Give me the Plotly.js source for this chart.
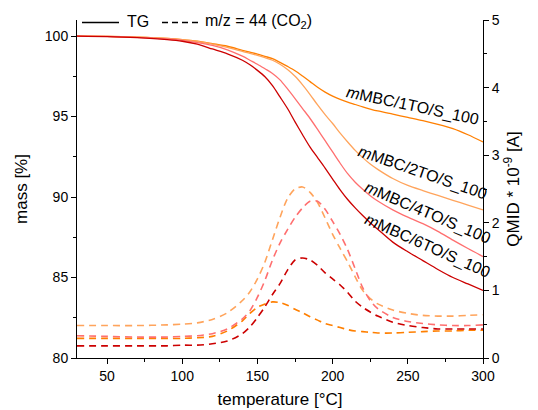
<!DOCTYPE html>
<html><head><meta charset="utf-8">
<script src="https://cdn.plot.ly/plotly-3.0.1.min.js"></script>
<style>html,body{margin:0;padding:0;background:#fff}#chart{width:538px;height:410px}</style>
</head><body><div id="chart"></div>
<script>
var temperature = [30,50,70,90,100,110,120,130,140,145,150,155,160,165,170,175,180,185,190,195,200,205,210,215,220,225,230,240,250,260,270,280,290,300];

var tg1TO = [100,99.98,99.93,99.85,99.78,99.68,99.53,99.37,99.12,99.0,98.88,98.74,98.6,98.37,98.12,97.85,97.52,97.17,96.82,96.52,96.27,96.07,95.9,95.75,95.6,95.47,95.35,95.15,94.95,94.75,94.52,94.25,93.87,93.42];
var tg2TO = [100,99.98,99.93,99.85,99.78,99.67,99.5,99.3,99.05,98.93,98.8,98.66,98.5,98.25,97.92,97.5,96.97,96.37,95.72,95.12,94.57,93.97,93.42,92.9,92.45,92.05,91.72,91.15,90.72,90.4,90.1,89.8,89.5,89.2];
var tg4TO = [100,99.98,99.92,99.82,99.74,99.6,99.42,99.15,98.75,98.5,98.25,97.97,97.68,97.28,96.72,96.12,95.5,94.88,94.2,93.5,92.8,92.1,91.45,90.92,90.48,90.08,89.75,89.2,88.75,88.35,87.87,87.32,86.8,86.3];
var tg6TO = [100,99.97,99.9,99.78,99.68,99.5,99.2,98.9,98.5,98.22,97.87,97.47,96.92,96.22,95.5,94.67,93.87,93.1,92.45,91.8,91.12,90.45,89.85,89.33,88.85,88.4,88.0,87.2,86.6,86.05,85.5,85.0,84.6,84.2];

var ms1TO = [0.29,0.29,0.29,0.29,0.29,0.3,0.32,0.4,0.55,0.66,0.75,0.8,0.83,0.82,0.78,0.72,0.67,0.61,0.56,0.51,0.48,0.45,0.42,0.4,0.39,0.38,0.37,0.37,0.38,0.39,0.4,0.4,0.41,0.41];
var ms2TO = [0.48,0.48,0.48,0.49,0.5,0.52,0.57,0.67,0.85,0.98,1.17,1.42,1.75,2.08,2.36,2.5,2.53,2.45,2.3,2.07,1.83,1.62,1.42,1.2,1.0,0.88,0.8,0.71,0.66,0.63,0.62,0.62,0.63,0.64];
var ms4TO = [0.33,0.32,0.31,0.31,0.32,0.33,0.36,0.43,0.58,0.7,0.9,1.15,1.45,1.7,1.9,2.08,2.22,2.32,2.32,2.2,2.02,1.83,1.6,1.32,1.04,0.85,0.73,0.6,0.54,0.51,0.49,0.48,0.48,0.49];
var ms6TO = [0.18,0.18,0.18,0.18,0.19,0.19,0.21,0.25,0.36,0.46,0.6,0.76,0.94,1.1,1.3,1.45,1.48,1.45,1.37,1.26,1.17,1.08,0.97,0.84,0.75,0.68,0.62,0.53,0.48,0.45,0.43,0.43,0.43,0.43];

var sampleNames = ["<i>m</i>MBC/1TO/S_100","<i>m</i>MBC/2TO/S_100","<i>m</i>MBC/4TO/S_100","<i>m</i>MBC/6TO/S_100"];
var sampleColors = ["#ff7f00","#ffa45c","#ff6f6f","#cc0000"];
var labelX = [253, 260, 263, 263];
var labelY = [95.63, 91.5, 89.0, 86.95];
var labelAngle = [12, 19, 23, 24];

var legendNames = ["TG", "m/z = 44 (CO<sub>2</sub>)"];
var legendDash = ["solid", "6px,4px"];

var tgSeries = [tg1TO, tg2TO, tg4TO, tg6TO];
var msSeries = [ms1TO, ms2TO, ms4TO, ms6TO];

var FONT = "Arial, 'Liberation Sans', sans-serif";
var traces = [];
for (var i = 0; i < 4; i++) {
  traces.push({x: temperature, y: msSeries[i], yaxis: 'y2', type: 'scatter', mode: 'lines',
    name: sampleNames[i] + ' m/z 44',
    line: {color: sampleColors[i], width: 1.6, dash: '7px,5px', shape: 'spline', smoothing: 0.8},
    showlegend: false, hoverinfo: 'skip'});
}
for (var j = 0; j < 4; j++) {
  traces.push({x: temperature, y: tgSeries[j], type: 'scatter', mode: 'lines',
    name: sampleNames[j] + ' TG',
    line: {color: sampleColors[j], width: 1.3, shape: 'spline', smoothing: 0.8},
    showlegend: false, hoverinfo: 'skip'});
}

// legend drawn in paper coordinates (plot area: x 77..483 px, y 20..358 px)
function px2x(p) { return (p - 77) / 406; }
function py2y(p) { return (358 - p) / 338; }
var legLineStart = [82, 162], legLineEnd = [119, 199], legTextStart = [125, 203];

var shapes = [];
var annotations = [];
for (var m = 0; m < 2; m++) {
  shapes.push({type: 'line', xref: 'paper', yref: 'paper',
    x0: px2x(legLineStart[m]), x1: px2x(legLineEnd[m]), y0: py2y(22.5), y1: py2y(22.5),
    line: {color: '#000', width: 1.3, dash: legendDash[m]}});
  annotations.push({xref: 'paper', yref: 'paper', x: px2x(legTextStart[m]), y: py2y(21.5),
    xanchor: 'left', yanchor: 'middle', text: legendNames[m], showarrow: false,
    font: {family: FONT, size: 16, color: '#000'}});
}
for (var k = 0; k < 4; k++) {
  annotations.push({x: labelX[k], y: labelY[k], xref: 'x', yref: 'y', text: sampleNames[k],
    showarrow: false, textangle: labelAngle[k], font: {family: FONT, size: 16, color: '#000'}});
}

var layout = {
  width: 538, height: 410,
  margin: {l: 77, r: 55, t: 20, b: 52, pad: 0, autoexpand: false},
  paper_bgcolor: '#fff', plot_bgcolor: '#fff',
  font: {family: FONT, size: 13, color: '#000'},
  showlegend: false,
  xaxis: {range: [30, 300], tickvals: [50,100,150,200,250,300], ticks: 'outside', ticklen: 5,
    tickcolor: '#000', showline: true, linecolor: '#000', linewidth: 1, showgrid: false, zeroline: false,
    tickfont: {size: 14}, minor: {dtick: 25, tick0: 0, ticks: 'outside', ticklen: 3, tickcolor: '#000', showgrid: false},
    title: {text: 'temperature [°C]', font: {size: 17}, standoff: 10}},
  yaxis: {range: [80, 101], tickvals: [80,85,90,95,100], ticks: 'outside', ticklen: 5,
    tickcolor: '#000', showline: true, linecolor: '#000', linewidth: 1, showgrid: false, zeroline: false,
    tickfont: {size: 14}, minor: {dtick: 2.5, tick0: 80, ticks: 'outside', ticklen: 3, tickcolor: '#000', showgrid: false},
    title: {text: 'mass [%]', font: {size: 17}, standoff: 12}},
  yaxis2: {range: [0, 5], overlaying: 'y', side: 'right', tickvals: [0,1,2,3,4,5], ticks: 'outside', ticklen: 5,
    tickcolor: '#000', showline: true, linecolor: '#000', linewidth: 1, showgrid: false, zeroline: false,
    tickfont: {size: 14}, minor: {dtick: 0.5, tick0: 0, ticks: 'outside', ticklen: 3, tickcolor: '#000', showgrid: false},
    title: {text: 'QMID * 10<sup>-9</sup> [A]', font: {size: 17}, standoff: 8}},
  shapes: shapes,
  annotations: annotations
};
Plotly.newPlot('chart', traces, layout, {displayModeBar: false, staticPlot: true});
</script>
</body></html>
